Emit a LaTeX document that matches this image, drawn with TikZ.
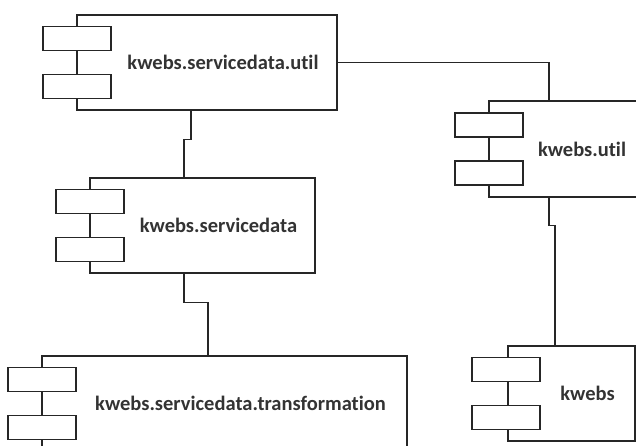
\documentclass[tikz,border=0pt]{standalone}
\usepackage{fontspec}
\setmainfont{Carlito}[Ligatures={NoCommon}]

\colorlet{edge}{black!85}
\colorlet{ink}{black!80}

\begin{document}
\begin{tikzpicture}[x=1pt, y=-1pt,
  comp/.style={draw=edge, line width=1.4pt, fill=white, inner sep=0pt},
  port/.style={draw=edge, line width=1.4pt, fill=white, inner sep=0pt,
    minimum width=68pt, minimum height=24pt},
  pkgname/.style={text=ink, font=\fontsize{20.5}{24}\selectfont\bfseries, inner sep=0pt},
  wire/.style={draw=edge, line width=1.4pt}]
  \useasboundingbox (0,0) rectangle (636,446);
  \clip (0,0) rectangle (636,446);
  % components
  \draw (207, 62.5)   node[comp, minimum width=260pt, minimum height=95pt] (sdutil) {};
  \draw (202.5,225.5) node[comp, minimum width=225pt, minimum height=95pt] (sd) {};
  \draw (224.5,403.5) node[comp, minimum width=365pt, minimum height=95pt] (trans) {};
  \draw (566, 149)    node[comp, minimum width=154pt, minimum height=96pt] (kutil) {};
  \draw (571.5,393.5) node[comp, minimum width=127pt, minimum height=95pt] (kwebs) {};
  % ports
  \draw (77, 38.5)    node[port] (sdutilA) {};
  \draw (77, 86.5)    node[port] (sdutilB) {};
  \draw (90, 201.5)   node[port] (sdA) {};
  \draw (90, 249.5)   node[port] (sdB) {};
  \draw (42, 379.5)   node[port] (transA) {};
  \draw (42, 427.5)   node[port] (transB) {};
  \draw (489, 125)    node[port] (kutilA) {};
  \draw (489, 173)    node[port] (kutilB) {};
  \draw (506, 369.5)  node[port] (kwebsA) {};
  \draw (506, 417.5)  node[port] (kwebsB) {};
  % names
  \draw ([xshift=16pt]sdutil.center) node[pkgname] (sdutilT) {kwebs.servicedata.util};
  \draw ([xshift=16pt]sd.center)     node[pkgname] (sdT) {kwebs.servicedata};
  \draw ([xshift=16pt]trans.center)  node[pkgname] (transT) {kwebs.servicedata.transformation};
  \draw ([xshift=16pt]kutil.center)  node[pkgname] (kutilT) {kwebs.util};
  \draw ([xshift=16pt]kwebs.center)  node[pkgname] (kwebsT) {kwebs};
  % dependencies
  \draw[wire] ([xshift=-16pt]sdutil.south) -- ++(0,29) -| ([xshift=-18.5pt]sd.north);
  \draw[wire] ([xshift=-18.5pt]sd.south) -- ++(0,29) -| ([xshift=-16.5pt]trans.north);
  \draw[wire] (sdutil.east) -| ([xshift=-17pt]kutil.north);
  \draw[wire] ([xshift=-17pt]kutil.south) -- ++(0,28) -| ([xshift=-16.5pt]kwebs.north);
\end{tikzpicture}
\end{document}
